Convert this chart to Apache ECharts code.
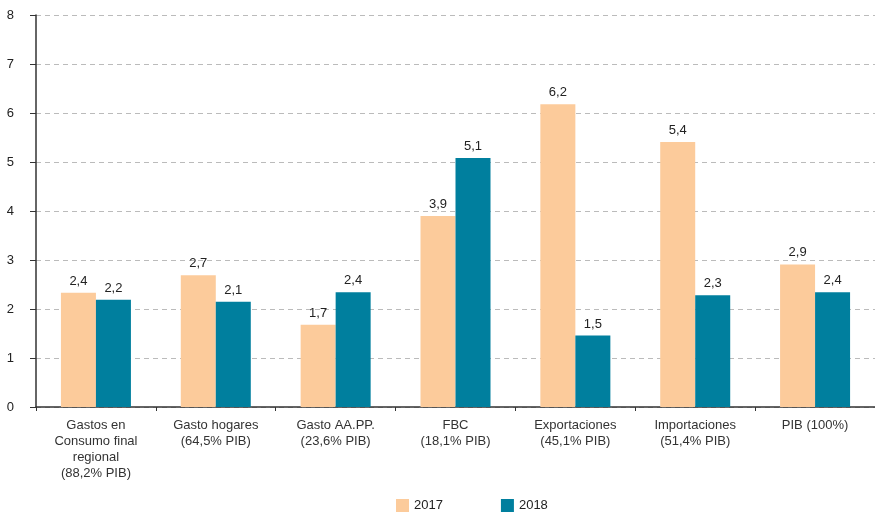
<!DOCTYPE html>
<html lang="es">
<head>
    <meta charset="utf-8">
    <title>Crecimiento regional 2017-2018</title>
    <script src="https://cdn.jsdelivr.net/npm/echarts@6/dist/echarts.min.js"></script>
    <style>
        html, body { margin: 0; padding: 0; background: #fff; }
        #chart { width: 875px; height: 514px; }
    </style>
</head>
<body>
<div id="chart"></div>
<script type="text/javascript">
    // categorias del eje X
    var categories = [
        'Gastos en\nConsumo final\nregional\n(88,2% PIB)',
        'Gasto hogares\n(64,5% PIB)',
        'Gasto AA.PP.\n(23,6% PIB)',
        'FBC\n(18,1% PIB)',
        'Exportaciones\n(45,1% PIB)',
        'Importaciones\n(51,4% PIB)',
        'PIB (100%)'
    ];
    // alturas
    var values2017 = [2.33, 2.69, 1.68, 3.90, 6.18, 5.41, 2.91];
    var values2018 = [2.19, 2.15, 2.34, 5.08, 1.46, 2.28, 2.34];
    // etiquetas tal como aparecen
    var labels2017 = ['2,4', '2,7', '1,7', '3,9', '6,2', '5,4', '2,9'];
    var labels2018 = ['2,2', '2,1', '2,4', '5,1', '1,5', '2,3', '2,4'];
    var yTicks = [0, 1, 2, 3, 4, 5, 6, 7, 8];

    var font = 'Liberation Sans, Arial, sans-serif';

    function barSeries(name, values, labels, color) {
        return {
            name: name,
            type: 'bar',
            barWidth: 35,
            barGap: '0%',
            itemStyle: { color: color },
            label: {
                show: true,
                position: 'top',
                distance: 5,
                color: '#222',
                fontFamily: font,
                fontSize: 13,
                formatter: function (p) { return labels[p.dataIndex]; }
            },
            data: values
        };
    }

    var myChart = echarts.init(document.getElementById('chart'));
    myChart.setOption({
        backgroundColor: '#fff',
        animation: false,
        grid: { left: 36, right: -1, top: 15, bottom: 107 },
        legend: {
            top: 494,
            left: 391,
            itemWidth: 13,
            itemHeight: 13,
            itemGap: 58,
            icon: 'rect',
            textStyle: { color: '#222', fontFamily: font, fontSize: 13 },
            data: ['2017', '2018']
        },
        xAxis: {
            type: 'category',
            data: categories,
            axisLine: { lineStyle: { color: '#333', width: 1.5 } },
            axisTick: { show: true, length: 4, inside: false, alignWithLabel: false, lineStyle: { color: '#333' } },
            axisLabel: {
                color: '#333',
                fontFamily: font,
                fontSize: 13,
                lineHeight: 16,
                margin: 10,
                interval: 0
            }
        },
        yAxis: {
            type: 'value',
            min: yTicks[0],
            max: yTicks[yTicks.length - 1],
            interval: 1,
            axisLine: { show: true, lineStyle: { color: '#333', width: 1.5 } },
            axisTick: { show: true, length: 6, lineStyle: { color: '#333' } },
            axisLabel: { color: '#222', fontFamily: font, fontSize: 13, margin: 22 },
            splitLine: { lineStyle: { color: '#bbb', type: [5, 4] } }
        },
        series: [
            barSeries('2017', values2017, labels2017, '#fccb9b'),
            barSeries('2018', values2018, labels2018, '#007f9e')
        ]
    });
</script>
</body>
</html>
